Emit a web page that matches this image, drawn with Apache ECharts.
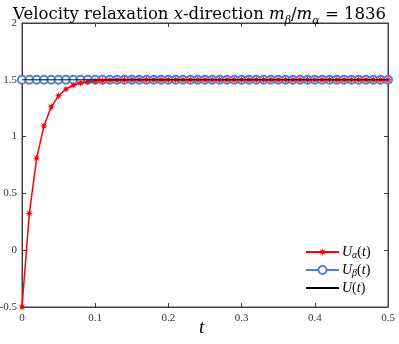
<!DOCTYPE html>
<html>
<head>
<meta charset="utf-8">
<script src="https://cdn.jsdelivr.net/npm/echarts@6/dist/echarts.min.js"></script>
<style>
  html, body { margin: 0; padding: 0; background: #fff; }
  #chart { width: 399px; height: 344px; }
</style>
</head>
<body>
<div id="chart"></div>
<script>
// time grid (t)
const tValues = [
  0, 0.01, 0.02, 0.03, 0.04, 0.05, 0.06, 0.07, 0.08, 0.09,
  0.1, 0.11, 0.12, 0.13, 0.14, 0.15, 0.16, 0.17, 0.18, 0.19,
  0.2, 0.21, 0.22, 0.23, 0.24, 0.25, 0.26, 0.27, 0.28, 0.29,
  0.3, 0.31, 0.32, 0.33, 0.34, 0.35, 0.36, 0.37, 0.38, 0.39,
  0.4, 0.41, 0.42, 0.43, 0.44, 0.45, 0.46, 0.47, 0.48, 0.49, 0.5
]
// U_alpha(t)
const uAlpha = [
  -0.5, 0.324, 0.81, 1.094, 1.262, 1.36, 1.418, 1.452, 1.472, 1.484,
  1.49, 1.494, 1.497, 1.498, 1.499, 1.5, 1.5, 1.5, 1.5, 1.5,
  1.5, 1.5, 1.5, 1.5, 1.5, 1.5, 1.5, 1.5, 1.5, 1.5,
  1.5, 1.5, 1.5, 1.5, 1.5, 1.5, 1.5, 1.5, 1.5, 1.5,
  1.5, 1.5, 1.5, 1.5, 1.5, 1.5, 1.5, 1.5, 1.5, 1.5, 1.5
]
// U_beta(t)
const uBeta = [
  1.5, 1.5, 1.5, 1.5, 1.5, 1.5, 1.5, 1.5, 1.5, 1.5,
  1.5, 1.5, 1.5, 1.5, 1.5, 1.5, 1.5, 1.5, 1.5, 1.5,
  1.5, 1.5, 1.5, 1.5, 1.5, 1.5, 1.5, 1.5, 1.5, 1.5,
  1.5, 1.5, 1.5, 1.5, 1.5, 1.5, 1.5, 1.5, 1.5, 1.5,
  1.5, 1.5, 1.5, 1.5, 1.5, 1.5, 1.5, 1.5, 1.5, 1.5, 1.5
]
// U(t)
const uMix = [
  1.5, 1.5, 1.5, 1.5, 1.5, 1.5, 1.5, 1.5, 1.5, 1.5,
  1.5, 1.5, 1.5, 1.5, 1.5, 1.5, 1.5, 1.5, 1.5, 1.5,
  1.5, 1.5, 1.5, 1.5, 1.5, 1.5, 1.5, 1.5, 1.5, 1.5,
  1.5, 1.5, 1.5, 1.5, 1.5, 1.5, 1.5, 1.5, 1.5, 1.5,
  1.5, 1.5, 1.5, 1.5, 1.5, 1.5, 1.5, 1.5, 1.5, 1.5, 1.5
]

const serif = '"Liberation Serif", "DejaVu Serif", serif'
const titleFont = '"DejaVu Serif", serif'
const axisColor = '#404040'
const blue = '#4f7fd8'
const star = 'path://M5 0 L5.77 3.15 L8.54 1.46 L6.85 4.23 L10 5 L6.85 5.77 L8.54 8.54 L5.77 6.85 L5 10 L4.23 6.85 L1.46 8.54 L3.15 5.77 L0 5 L3.15 4.23 L1.46 1.46 L4.23 3.15 Z'

const pairs = (ys) => tValues.map((t, i) => [t, ys[i]])

const chart = echarts.init(document.getElementById('chart'))

const legendNames = {
  Ua: '{i|U}{s|α}{n|(}{i|t}{n|)}',
  Ub: '{i|U}{s|β}{n|(}{i|t}{n|)}',
  U: '{i|U}{n|(}{i|t}{n|)}'
}

const option = {
  animation: false,
  title: [{
    text: '{n|Velocity relaxation }{i|x}{n|-direction }{i|m}{s|β}{n|/}{i|m}{s|α}{n| = 1836}',
    left: 'center',
    top: -2,
    textStyle: {
      fontWeight: 'normal',
      rich: {
        n: { fontFamily: titleFont, fontSize: 16.5, fontWeight: 'normal', color: '#000', lineHeight: 24, verticalAlign: 'middle' },
        i: { fontFamily: titleFont, fontSize: 16.5, fontWeight: 'normal', fontStyle: 'italic', color: '#000', lineHeight: 24, verticalAlign: 'middle' },
        s: { fontFamily: titleFont, fontSize: 11, fontWeight: 'normal', fontStyle: 'italic', color: '#000', lineHeight: 12, verticalAlign: 'bottom' }
      }
    }
  }, {
    // x axis name
    text: 't',
    left: 199,
    top: 318,
    padding: 0,
    textStyle: { fontFamily: serif, fontSize: 19, fontStyle: 'italic', fontWeight: 'normal', color: '#000' }
  }],
  legend: {
    orient: 'vertical',
    left: 305,
    top: 245,
    padding: 0,
    itemWidth: 33,
    itemHeight: 10,
    itemGap: 3,
    data: ['Ua', 'Ub', { name: 'U', itemStyle: { opacity: 0 } }],
    formatter: (name) => legendNames[name],
    textStyle: {
      padding: [0, 0, 0, -2],
      rich: {
        n: { fontFamily: serif, fontSize: 14, color: '#000', lineHeight: 16 },
        i: { fontFamily: serif, fontSize: 14, fontStyle: 'italic', color: '#000', lineHeight: 16 },
        s: { fontFamily: serif, fontSize: 10, fontStyle: 'italic', color: '#000', lineHeight: 10, verticalAlign: 'bottom' }
      }
    }
  },
  grid: {
    left: 22,
    right: 11,
    top: 23,
    bottom: 37,
    containLabel: false,
    outerBoundsMode: 'none',
    show: true,
    borderColor: axisColor,
    borderWidth: 1
  },
  xAxis: [{
    type: 'value',
    min: 0,
    max: 0.5,
    interval: 0.1,
    axisLine: { onZero: false, lineStyle: { color: axisColor } },
    axisTick: { inside: true, length: 4, lineStyle: { color: axisColor } },
    axisLabel: { fontFamily: serif, fontSize: 11, color: '#333', margin: 6 },
    splitLine: { show: false }
  }, {
    type: 'value',
    position: 'top',
    min: 0,
    max: 0.5,
    interval: 0.1,
    axisLine: { onZero: false, lineStyle: { color: axisColor } },
    axisTick: { inside: true, length: 4, lineStyle: { color: axisColor } },
    axisLabel: { show: false },
    splitLine: { show: false }
  }],
  yAxis: [{
    type: 'value',
    min: -0.5,
    max: 2,
    interval: 0.5,
    axisLine: { show: true, onZero: false, lineStyle: { color: axisColor } },
    axisTick: { show: true, inside: true, length: 4, lineStyle: { color: axisColor } },
    axisLabel: { fontFamily: serif, fontSize: 11, color: '#333', margin: 5 },
    splitLine: { show: false }
  }, {
    type: 'value',
    position: 'right',
    min: -0.5,
    max: 2,
    interval: 0.5,
    axisLine: { show: true, onZero: false, lineStyle: { color: axisColor } },
    axisTick: { show: true, inside: true, length: 4, lineStyle: { color: axisColor } },
    axisLabel: { show: false },
    splitLine: { show: false }
  }],
  series: [{
    name: 'Ua',
    type: 'line',
    z: 3,
    data: pairs(uAlpha),
    symbol: star,
    symbolSize: 8,
    lineStyle: { color: '#ff0000', width: 1.5 },
    itemStyle: { color: '#ff0000' }
  }, {
    name: 'Ub',
    type: 'line',
    z: 2,
    data: pairs(uBeta),
    symbol: 'emptyCircle',
    symbolSize: 8,
    lineStyle: { color: blue, width: 1.5 },
    itemStyle: { color: blue, borderWidth: 1 }
  }, {
    name: 'U',
    type: 'line',
    z: 4,
    data: pairs(uMix),
    symbol: 'none',
    lineStyle: { color: '#000', width: 1 },
    itemStyle: { color: '#000' }
  }]
}

chart.setOption(option)
</script>
</body>
</html>
